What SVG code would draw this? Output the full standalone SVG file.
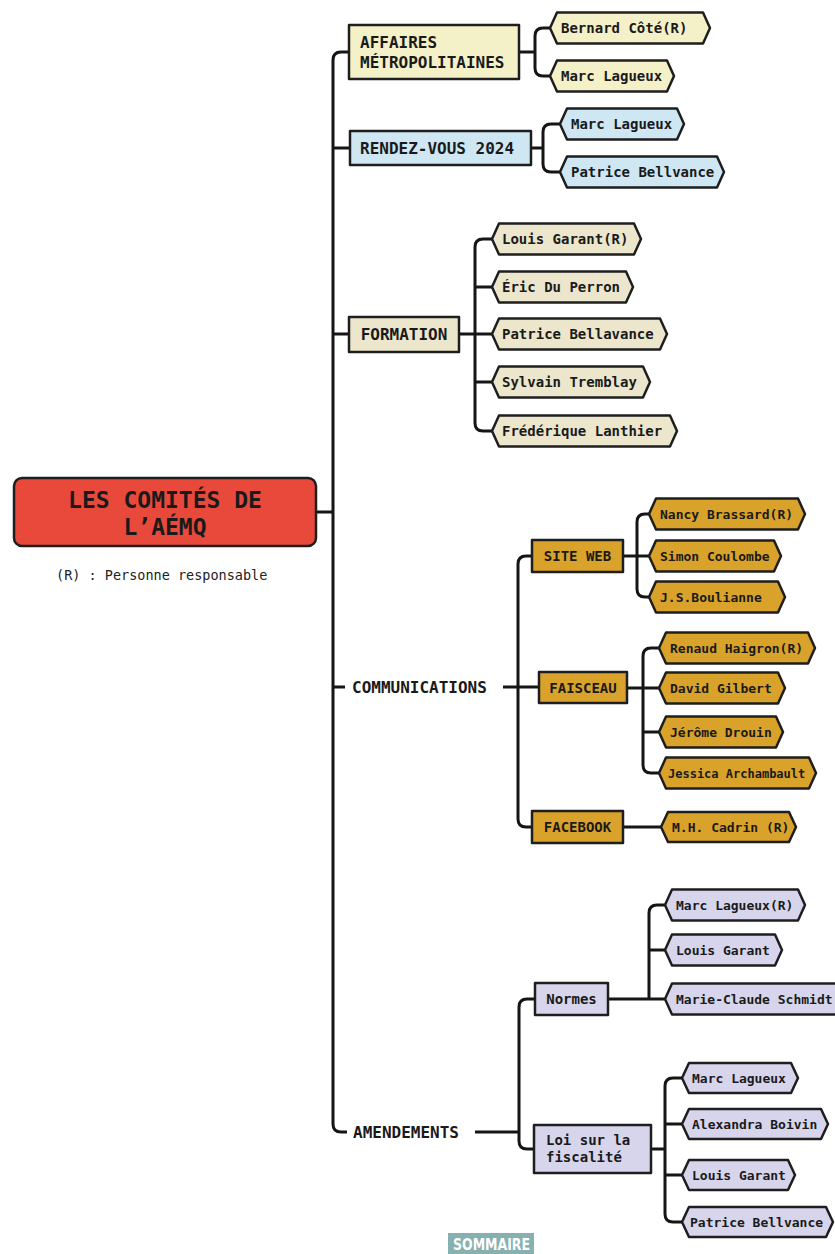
<svg xmlns="http://www.w3.org/2000/svg" width="835" height="1254" viewBox="0 0 835 1254">
<style>
.ln{fill:none;stroke:#151515;stroke-width:3;stroke-linejoin:round}
.bx{stroke:#1e1e1e;stroke-width:2.5;stroke-linejoin:round}
.t{font-family:"DejaVu Sans Mono","Liberation Mono",monospace;font-weight:bold;fill:#1a1a1a}
.c16{font-size:16px}.c14{font-size:14px}.c13{font-size:13px}.c12{font-size:12px}
.mid{text-anchor:middle}
.am{fill:#f4f0c8}.rv{fill:#cfe7f2}.fo{fill:#ece7cc}.co{fill:#d9a22a}.ad{fill:#d7d5ec}
</style>
<rect width="835" height="1254" fill="#ffffff"/>
<g id="connectors">
<path class="ln" d="M349,52 H341 Q333,52 333,60 V1124 Q333,1132 341,1132 H347"/>
<path class="ln" d="M333,148 H350 M333,334 H349 M316,512 H333 M333,687 H345"/>
<path class="ln" d="M519,52 H535 M550,28 H543 Q535,28 535,36 V68 Q535,76 543,76 H550"/>
<path class="ln" d="M531,148 H543 M560,124 H551 Q543,124 543,132 V164 Q543,172 551,172 H560"/>
<path class="ln" d="M459,334 H492 M492,239 H483 Q475,239 475,247 V423 Q475,431 483,431 H492 M475,287 H492 M475,382 H492"/>
<path class="ln" d="M503,687 H539 M532,556 H526 Q518,556 518,564 V819 Q518,827 526,827 H532"/>
<path class="ln" d="M623,556 H649 M649,514 H645 Q637,514 637,522 V589 Q637,597 645,597 H649"/>
<path class="ln" d="M627,688 H659 M659,648 H651 Q643,648 643,656 V765 Q643,773 651,773 H659 M643,732 H659"/>
<path class="ln" d="M623,827 H661"/>
<path class="ln" d="M475,1132 H519 M535,999 H527 Q519,999 519,1007 V1141 Q519,1149 527,1149 H534"/>
<path class="ln" d="M608,999 H665 M665,905 H657 Q649,905 649,913 V999 M649,950 H665"/>
<path class="ln" d="M651,1149 H665 M682,1078 H673 Q665,1078 665,1086 V1214 Q665,1222 673,1222 H682 M665,1124 H682 M665,1175 H682"/>
</g>
<g id="root">
<rect class="bx" x="14" y="478" width="302" height="68" rx="8" fill="#e9493b"/>
<text class="t mid" x="165" y="508" font-size="23">LES COMITÉS DE</text>
<text class="t mid" x="165" y="535" font-size="23">L’AÉMQ</text>
</g>
<g id="legend">
<text x="56" y="580" font-family="DejaVu Sans Mono, Liberation Mono, monospace" font-size="13.5" fill="#222">(R) : Personne responsable</text>
</g>
<g id="affaires">
<rect class="bx am" x="349" y="25" width="170" height="54"/>
<text class="t c16" x="360" y="48">AFFAIRES</text>
<text class="t c16" x="360" y="68">MÉTROPOLITAINES</text>
</g>
<g id="aff-1"><polygon class="bx am" points="550,28 557,12.5 703,12.5 710,28 703,43.5 557,43.5"/><text class="t c14" x="561" y="33">Bernard Côté(R)</text></g>
<g id="aff-2"><polygon class="bx am" points="550,76 557,60.5 667,60.5 674,76 667,91.5 557,91.5"/><text class="t c14" x="561" y="81">Marc Lagueux</text></g>
<g id="rendezvous">
<rect class="bx rv" x="350" y="131" width="181" height="34"/>
<text class="t c16" x="360" y="154">RENDEZ-VOUS 2024</text>
</g>
<g id="rv-1"><polygon class="bx rv" points="560,124 567,108.5 677,108.5 684,124 677,139.5 567,139.5"/><text class="t c14" x="571" y="129">Marc Lagueux</text></g>
<g id="rv-2"><polygon class="bx rv" points="560,172 567,156.5 717,156.5 724,172 717,187.5 567,187.5"/><text class="t c14" x="571" y="177">Patrice Bellvance</text></g>
<g id="formation">
<rect class="bx fo" x="349" y="317" width="110" height="35"/>
<text class="t c16 mid" x="404" y="340">FORMATION</text>
</g>
<g id="fo-1"><polygon class="bx fo" points="492,239 499,223.5 634,223.5 641,239 634,254.5 499,254.5"/><text class="t c14" x="502" y="244">Louis Garant(R)</text></g>
<g id="fo-2"><polygon class="bx fo" points="492,287 499,271.5 626,271.5 633,287 626,302.5 499,302.5"/><text class="t c14" x="502" y="292">Éric Du Perron</text></g>
<g id="fo-3"><polygon class="bx fo" points="492,334 499,318.5 660,318.5 667,334 660,349.5 499,349.5"/><text class="t c14" x="502" y="339">Patrice Bellavance</text></g>
<g id="fo-4"><polygon class="bx fo" points="492,382 499,366.5 643,366.5 650,382 643,397.5 499,397.5"/><text class="t c14" x="502" y="387">Sylvain Tremblay</text></g>
<g id="fo-5"><polygon class="bx fo" points="492,431 499,415.5 670,415.5 677,431 670,446.5 499,446.5"/><text class="t c14" x="502" y="436">Frédérique Lanthier</text></g>
<g id="communications"><text class="t c16" x="352" y="693">COMMUNICATIONS</text></g>
<g id="siteweb">
<rect class="bx co" x="532" y="540" width="91" height="32"/>
<text class="t c14 mid" x="577.5" y="561">SITE WEB</text>
</g>
<g id="sw-1"><polygon class="bx co" points="649,514 656,498.5 798,498.5 805,514 798,529.5 656,529.5"/><text class="t c13" x="660" y="518.5">Nancy Brassard(R)</text></g>
<g id="sw-2"><polygon class="bx co" points="649,556 656,540.5 774,540.5 781,556 774,571.5 656,571.5"/><text class="t c13" x="660" y="560.5">Simon Coulombe</text></g>
<g id="sw-3"><polygon class="bx co" points="649,597 656,581.5 778,581.5 785,597 778,612.5 656,612.5"/><text class="t c13" x="660" y="601.5">J.S.Boulianne</text></g>
<g id="faisceau">
<rect class="bx co" x="539" y="672" width="88" height="31"/>
<text class="t c14 mid" x="583" y="693">FAISCEAU</text>
</g>
<g id="fa-1"><polygon class="bx co" points="659,648 666,632.5 808,632.5 815,648 808,663.5 666,663.5"/><text class="t c13" x="670" y="652.5">Renaud Haigron(R)</text></g>
<g id="fa-2"><polygon class="bx co" points="659,688 666,672.5 778,672.5 785,688 778,703.5 666,703.5"/><text class="t c13" x="670" y="692.5">David Gilbert</text></g>
<g id="fa-3"><polygon class="bx co" points="659,732 666,716.5 776,716.5 783,732 776,747.5 666,747.5"/><text class="t c13" x="670" y="736.5">Jérôme Drouin</text></g>
<g id="fa-4"><polygon class="bx co" points="659,773 666,757.5 809,757.5 816,773 809,788.5 666,788.5"/><text class="t c12" x="668" y="777.5">Jessica Archambault</text></g>
<g id="facebook">
<rect class="bx co" x="532" y="811" width="91" height="32"/>
<text class="t c14 mid" x="577.5" y="832">FACEBOOK</text>
</g>
<g id="fb-1"><polygon class="bx co" points="661,827 668,812 789,812 796,827 789,842 668,842"/><text class="t c13" x="672" y="831.5">M.H. Cadrin (R)</text></g>
<g id="amendements"><text class="t c16" x="353" y="1138">AMENDEMENTS</text></g>
<g id="normes">
<rect class="bx ad" x="535" y="983" width="73" height="32"/>
<text class="t c14 mid" x="571.5" y="1004">Normes</text>
</g>
<g id="no-1"><polygon class="bx ad" points="665,905 672,889.5 798,889.5 805,905 798,920.5 672,920.5"/><text class="t c13" x="676" y="909.5">Marc Lagueux(R)</text></g>
<g id="no-2"><polygon class="bx ad" points="665,950 672,934.5 775,934.5 782,950 775,965.5 672,965.5"/><text class="t c13" x="676" y="954.5">Louis Garant</text></g>
<g id="no-3"><polygon class="bx ad" points="665,999 672,983.5 838,983.5 845,999 838,1014.5 672,1014.5"/><text class="t c13" x="676" y="1003.5">Marie-Claude Schmidt</text></g>
<g id="loi">
<rect class="bx ad" x="534" y="1125" width="117" height="48"/>
<text class="t c14" x="546" y="1145">Loi sur la</text>
<text class="t c14" x="546" y="1162">fiscalité</text>
</g>
<g id="loi-1"><polygon class="bx ad" points="682,1078 689,1063 791,1063 798,1078 791,1093 689,1093"/><text class="t c13" x="692" y="1082.5">Marc Lagueux</text></g>
<g id="loi-2"><polygon class="bx ad" points="682,1124 689,1109 821,1109 828,1124 821,1139 689,1139"/><text class="t c13" x="692" y="1128.5">Alexandra Boivin</text></g>
<g id="loi-3"><polygon class="bx ad" points="682,1175 689,1160 788,1160 795,1175 788,1190 689,1190"/><text class="t c13" x="692" y="1179.5">Louis Garant</text></g>
<g id="loi-4"><polygon class="bx ad" points="682,1222 689,1207 826,1207 833,1222 826,1237 689,1237"/><text class="t c13" x="690" y="1226.5">Patrice Bellvance</text></g>
<g id="sommaire">
<rect x="448" y="1233" width="86" height="21" fill="#87b1b0"/>
<text x="453" y="1249.5" font-family="DejaVu Sans Condensed, Liberation Sans Narrow, sans-serif" font-weight="bold" font-size="16" fill="#ffffff" textLength="77" lengthAdjust="spacingAndGlyphs">SOMMAIRE</text>
</g>
</svg>
